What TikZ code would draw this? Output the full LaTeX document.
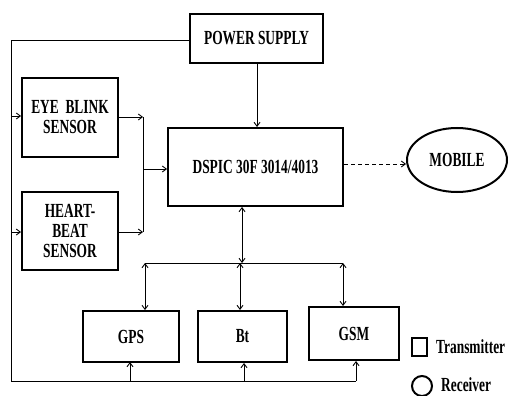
\documentclass[tikz,border=0pt]{standalone}
\usepackage{fontspec}
\setmainfont{Liberation Serif}
\usetikzlibrary{arrows.meta,shapes.geometric}
\newcommand{\sq}[1]{\scalebox{0.67}[1]{#1}}
\tikzset{
  blk/.style={draw,line width=2pt,rectangle,inner sep=0pt,align=center,
    font=\fontsize{20}{20}\selectfont\bfseries},
  con/.style={line width=0.9pt},
  arr/.style={con,-{Straight Barb[length=4pt,width=6pt]}},
  darr/.style={con,{Straight Barb[length=4pt,width=6pt]}-{Straight Barb[length=4pt,width=6pt]}},
  lbl/.style={inner sep=0pt,anchor=west,font=\fontsize{20}{20}\selectfont\bfseries}
}
\begin{document}
\begin{tikzpicture}[x=1pt,y=-1pt]
\useasboundingbox (0,0) rectangle (509,396);
\node[blk,minimum width=133,minimum height=49] (ps) at (256.5,38.5) {\sq{POWER SUPPLY}};
\node[blk,minimum width=96,minimum height=79] (eye) at (70,117.5) {\sq{EYE\ \ BLINK}\\\sq{SENSOR}};
\node[blk,minimum width=96,minimum height=78] (heart) at (70,231) {\sq{HEART-}\\\sq{BEAT}\\\sq{SENSOR}};
\node[blk,minimum width=175,minimum height=78] (dsp) at (255.5,167) {\sq{DSPIC 30F 3014/4013}};
\node[blk,ellipse,minimum width=100,minimum height=64] (mob) at (457,160) {\sq{MOBILE}};
\node[blk,minimum width=96,minimum height=51] (gps) at (131,336.5) {\sq{GPS}};
\node[blk,minimum width=89,minimum height=51] (bt) at (242.5,336.5) {\sq{Bt}};
\node[blk,minimum width=90,minimum height=53] (gsm) at (354,333.5) {\sq{GSM}};
\node[blk,minimum width=15,minimum height=18] (lsq) at (419.5,347) {};
\node[blk,circle,minimum size=20] (lci) at (422,386) {};
\node[lbl] (ltx) at (436,347) {\sq{Transmitter}};
\node[lbl] (lrx) at (441,385) {\sq{Receiver}};
% coordinates
\coordinate (pl) at (11,40);
\coordinate (pb) at (11,381);
\coordinate (sj) at (143,169);
\coordinate (bus) at (242,263);
\coordinate (busl) at (145,263);
\coordinate (busr) at (343,263);
% power distribution
\draw[con] (ps.west |- pl) -- (pl) -- (pb) -- (356,381);
\draw[arr] (11,116) -- (eye.west |- 0,116);
\draw[arr] (11,232) -- (heart.west |- 0,232);
\draw[arr] (130,381) -- (130,362);
\draw[arr] (244,381) -- (bt.south -| 244,0);
\draw[arr] (356,381) -- (gsm.south -| 356,0);
\draw[arr] (ps.south -| 257,0) -- (dsp.north -| 257,0);
% sensors to dspic
\draw[arr] (eye.east |- 0,117) -- (143,117);
\draw[arr] (heart.east |- 0,232) -- (143,232);
\draw[con] (143,117) -- (143,232);
\draw[arr] (sj) -- (dsp.west |- sj);
% mobile
\draw[con,dashed,dash pattern=on 4pt off 3pt,-{Straight Barb[length=4pt,width=6pt]}] (dsp.east |- 0,164) -- (mob.west |- 0,164);
% bus
\draw[darr] (dsp.south -| bus) -- (bus);
\draw[con] (busl) -- (busr);
\draw[darr] (busl) -- (gps.north -| busl);
\draw[darr] (240,263) -- (bt.north -| 240,0);
\draw[darr] (busr) -- (gsm.north -| busr);
\end{tikzpicture}
\end{document}
